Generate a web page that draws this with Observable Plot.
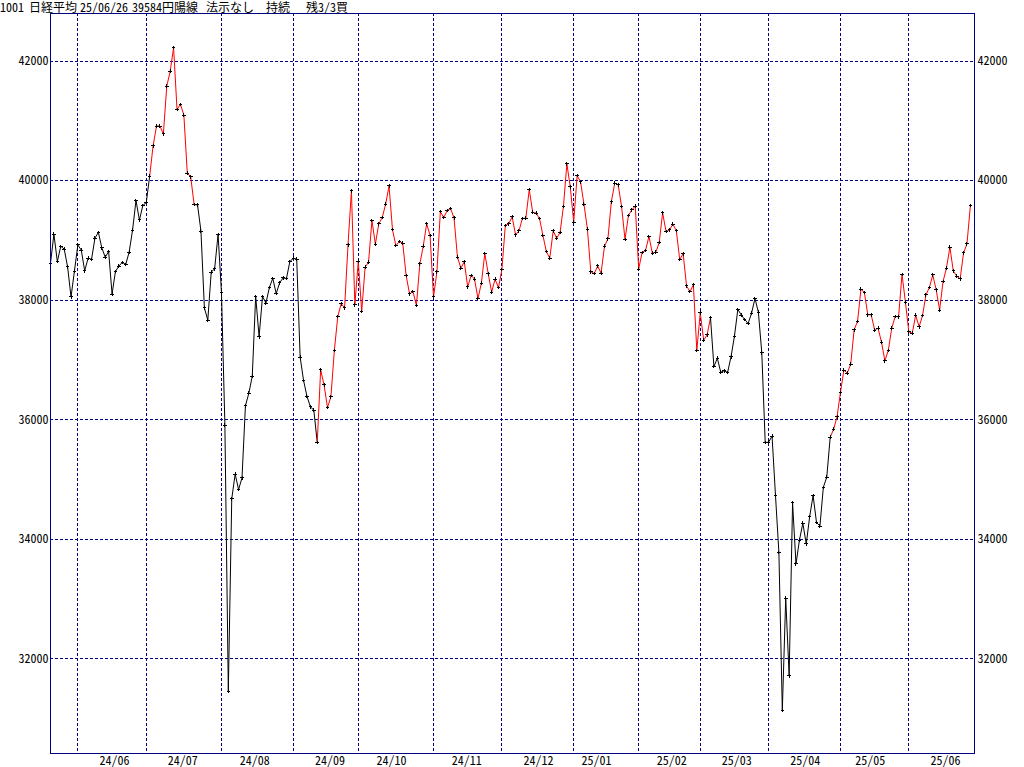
<!DOCTYPE html>
<html><head><meta charset="utf-8">
<script src="https://cdn.jsdelivr.net/npm/d3@7"></script>
<script src="https://cdn.jsdelivr.net/npm/@observablehq/plot@0.6"></script>
<style>
@font-face{font-family:"TitleMono";src:local("Noto Sans Mono CJK JP Regular"),local("NotoSansMonoCJKjp-Regular"),local("Noto Sans Mono CJK JP");ascent-override:88%;descent-override:12%;line-gap-override:0%;}
html,body{margin:0;padding:0;background:#fff;}
#wrap{position:relative;width:1024px;height:767px;overflow:hidden;}
#chart{position:absolute;left:0;top:0;}
#title{position:absolute;left:0;top:1px;width:400px;height:12px;font-size:12px;line-height:12px;font-family:'TitleMono','Noto Sans Mono CJK JP','Noto Sans CJK JP',monospace;white-space:pre;color:#000;}
#title span{position:absolute;top:0;}
</style></head><body>
<div id="wrap"><div id="chart"></div><div id="title"></div></div>
<script>
// ---- data ----
const months = ["2024-05","2024-06","2024-07","2024-08","2024-09","2024-10","2024-11","2024-12","2025-01","2025-02","2025-03","2025-04","2025-05","2025-06"];
const tradingDays = [
  [22,23,24,27,28,29,30,31],
  [3,4,5,6,7,10,11,12,13,14,17,18,19,20,21,24,25,26,27,28],
  [1,2,3,4,5,8,9,10,11,12,16,17,18,19,22,23,24,25,26,29,30,31],
  [1,2,5,6,7,8,9,13,14,15,16,19,20,21,22,23,26,27,28,29,30],
  [2,3,4,5,6,9,10,11,12,13,17,18,19,20,24,25,26,27,30],
  [1,2,3,4,7,8,9,10,11,15,16,17,18,21,22,23,24,25,28,29,30,31],
  [1,5,6,7,8,11,12,13,14,15,18,19,20,21,22,25,26,27,28,29],
  [2,3,4,5,6,9,10,11,12,13,16,17,18,19,20,23,24,25,26,27,30],
  [6,7,8,9,10,14,15,16,17,20,21,22,23,24,27,28,29,30,31],
  [3,4,5,6,7,10,12,13,14,17,18,19,20,21,25,26,27,28],
  [3,4,5,6,7,10,11,12,13,14,17,18,19,21,24,25,26,27,28,31],
  [1,2,3,4,7,8,9,10,11,14,15,16,17,18,21,22,23,24,25,28,30],
  [1,2,7,8,9,12,13,14,15,16,19,20,21,22,23,26,27,28,29,30],
  [2,3,4,5,6,9,10,11,12,13,16,17,18,19,20,23,24,25,26]
];
const closes = [
  [38617,39103,38646,38900,38855,38556,38054,38487],
  [38923,38837,38490,38703,38683,39038,39134,38876,38720,38814,38102,38482,38570,38633,38596,38804,39173,39667,39341,39583],
  [39631,40074,40580,40913,40912,40780,41580,41831,42224,41190,41275,41097,40126,40063,39599,39594,39154,37869,37667,38468,38525,39101],
  [38126,35909,31458,34675,35089,34831,35025,36232,36442,36726,38062,37388,38063,37951,38211,38364,38110,38288,38371,38362,38647],
  [38700,38686,37047,36657,36391,36215,36159,35619,36833,36581,36203,36380,37155,37723,37940,37870,38925,39829,37919],
  [38651,37808,38552,38635,39332,38937,39277,39380,39605,39910,39180,38911,38981,38954,38411,38104,38143,37913,38605,38903,39277,39081],
  [38053,38474,39480,39381,39500,39533,39376,38721,38535,38642,38220,38414,38352,38026,38283,38780,38442,38134,38349,38208],
  [38513,39248,39276,39395,39091,39160,39367,39372,39849,39470,39457,39364,39081,38813,38701,39161,39036,39130,39568,40281,39894],
  [39307,40083,39981,39605,39190,38474,38444,38572,38451,38902,39027,39646,39958,39931,39565,39016,39414,39513,39572],
  [38520,38798,38831,39066,38787,38801,38963,39461,39149,39174,39270,39164,38678,38776,38237,38142,38256,37155],
  [37785,37331,37418,37705,36887,37028,36793,36819,36790,37053,37396,37845,37751,37677,37608,37780,38027,37799,37120,35617],
  [35624,35725,34735,33780,31136,33012,31714,34609,33585,33982,34267,33920,34377,34730,34279,34220,34868,35039,35705,35839,36045],
  [36452,36830,36779,36928,37503,37644,38183,38128,37755,37753,37498,37529,37299,36985,37160,37531,37724,37722,38432,37965],
  [37470,37446,37747,37554,37741,38088,38211,38421,38173,37834,38311,38536,38885,38488,38403,38354,38790,38942,39584]
];
// runs where the line is drawn red (segment ending on that day)
const redRuns = [["2024-07-03","2024-07-22"],["2024-09-12","2025-03-06"],["2025-04-28","2025-06-26"]];
const yTicks = [32000,34000,36000,38000,40000,42000];
const titleParts = ["1001","日経平均","25/06/26","39584円","陽線","法示なし","持続","残3/3買"];

// ---- layout ----
const titleX = [0,29,80,132,174,206,266,306];
const navy = "#000080";
const fontFam = "'Noto Sans Mono CJK JP','Noto Sans CJK JP',monospace";

const rows = [];
months.forEach((m, mi) => tradingDays[mi].forEach((d, di) => {
  rows.push({date: `${m}-${String(d).padStart(2, "0")}`, close: closes[mi][di], i: rows.length});
}));
const isRed = date => redRuns.some(([a, b]) => date >= a && date <= b);
const segments = rows.slice(1).map((r, k) => ({x1: k, y1: rows[k].close, x2: r.i, y2: r.close, red: isRed(r.date)}));

const monthStarts = [];
const labelMap = new Map();
let offset = 0;
months.forEach((m, mi) => {
  if (mi > 0) {
    monthStarts.push(offset);
    const k = tradingDays[mi].findIndex(d => d >= 15);
    labelMap.set(offset + k + 0.7, m.slice(2, 4) + "/" + m.slice(5, 7));
  }
  offset += tradingDays[mi].length;
});

const chart = Plot.plot({
  width: 1024, height: 767,
  marginLeft: 50, marginRight: 50, marginTop: 13, marginBottom: 14,
  x: {type: "linear", domain: [0, 270.2], axis: null},
  y: {domain: [30414, 42796], axis: null},
  style: {fontFamily: fontFam, fontSize: "12px", background: "white", color: "black"},
  marks: [
    Plot.ruleY(yTicks, {stroke: navy, strokeDasharray: "3,2", shapeRendering: "crispEdges"}),
    Plot.ruleX(monthStarts, {stroke: navy, strokeDasharray: "3,2", shapeRendering: "crispEdges"}),
    Plot.link(segments, {x1: "x1", y1: "y1", x2: "x2", y2: "y2", stroke: d => d.red ? "#ff0000" : "#000000", strokeWidth: 1}),
    Plot.dot(rows, {x: "i", y: "close", symbol: "plus", r: 1.25, stroke: "black", strokeWidth: 1, shapeRendering: "crispEdges"}),
    Plot.frame({stroke: navy, shapeRendering: "crispEdges"}),
    Plot.axisY(yTicks, {anchor: "left", tickSize: 0, tickPadding: 2, tickFormat: d => String(d)}),
    Plot.axisY(yTicks, {anchor: "right", tickSize: 0, tickPadding: 3, tickFormat: d => String(d)}),
    Plot.axisX([...labelMap.keys()], {anchor: "bottom", tickSize: 0, tickPadding: 3, tickFormat: d => labelMap.get(d)})
  ]
});
document.getElementById("chart").appendChild(chart);

const title = document.getElementById("title");
titleParts.forEach((t, k) => {
  const s = document.createElement("span");
  s.textContent = t;
  s.style.left = titleX[k] + "px";
  title.appendChild(s);
});
</script>
</body></html>
